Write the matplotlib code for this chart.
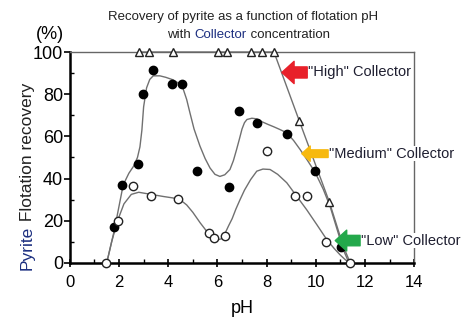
import matplotlib
matplotlib.use('Agg')
import matplotlib.pyplot as plt
from matplotlib.ticker import MultipleLocator

plt.rcParams['font.family'] = ['Liberation Sans', 'DejaVu Sans']

# measured points: "Medium" collector (filled circles)
med_ph = [1.79, 2.14, 2.78, 2.96, 3.37, 4.14, 4.54, 5.16, 6.48, 6.89, 7.62, 8.82, 9.97, 11.02]
med_rec = [17, 37, 47, 80, 91.4, 85, 85, 43.5, 36, 72, 66.5, 61.3, 43.5, 7.5]

# "Low" collector (open circles)
low_ph = [1.49, 1.94, 2.55, 3.32, 4.41, 5.67, 5.86, 6.31, 8.0, 9.16, 9.66, 10.42, 11.37]
low_rec = [0, 20, 36.3, 31.6, 30.5, 14, 11.7, 12.8, 53.3, 31.9, 31.6, 10.1, 0]

# "High" collector (open triangles)
high_ph = [2.8, 3.2, 4.2, 6.03, 6.4, 7.35, 7.8, 8.3, 9.33, 10.55]
high_rec = [100, 100, 100, 100, 100, 100, 100, 100, 67.3, 28.9]

# fitted curves
med_fit_ph = [1.5, 1.8, 2.17, 2.4, 2.6, 2.75, 2.85, 2.93, 3.0, 3.12, 3.25, 3.39, 3.66, 3.9,
              4.2, 4.45, 4.61, 4.75, 4.88, 5.05, 5.29, 5.5, 5.7, 5.9, 6.1, 6.3, 6.51, 6.65,
              6.78, 6.9, 7.0, 7.1, 7.2, 7.4, 7.6, 7.8, 8.05, 8.3, 8.55, 8.82, 9.1, 9.36,
              9.65, 9.97, 10.3, 10.58, 10.85, 11.12, 11.35]
med_fit_rec = [0, 15, 37, 42.5, 46, 50, 55, 63, 74, 83, 87, 88.7, 88.7, 88,
               86.8, 85, 82.4, 77.5, 71.3, 63.5, 55.4, 49.5, 45, 42, 41, 41.8, 44.3, 48.5,
               53.8, 59, 63.5, 66.5, 68, 68.6, 68.3, 67, 65.7, 64.5, 63.2, 61.7, 58, 53.8,
               48.8, 43, 35, 26.8, 16.5, 6.2, 0]

low_fit_ph = [1.5, 1.7, 1.94, 2.2, 2.5, 2.8, 3.3, 3.8, 4.2, 4.48, 4.75, 5.0, 5.3, 5.63,
              5.85, 6.04, 6.2, 6.31, 6.45, 6.6, 6.75, 6.92, 7.1, 7.35, 7.6, 7.85, 8.14,
              8.45, 8.82, 9.2, 9.63, 10.05, 10.45, 10.75, 10.99, 11.2, 11.4]
low_fit_rec = [0, 10, 20, 28, 32.5, 33.5, 32.5, 31.5, 30.8, 30, 27.5, 24, 19, 14,
               12, 11, 11.6, 14, 17.5, 21, 25.5, 30, 34.5, 39.5, 43.5, 44.5, 44.3,
               42, 38, 32, 25.2, 18, 11, 6.8, 3.8, 1.5, 0]

high_fit_ph = [2.8, 8.3, 9.33, 10.55, 11.12, 11.4]
high_fit_rec = [100, 100, 67.3, 28.9, 7.8, 0]

fig = plt.figure(figsize=(4.75, 3.23), dpi=100)
ax = fig.add_axes([0.147, 0.186, 0.725, 0.653])
renderer = fig.canvas.get_renderer()


def chain_text(parts, x, y, vertical=False, **kw):
    """Place coloured text pieces one after another (figure coords)."""
    for s, c in parts:
        if vertical:
            t = fig.text(x, y, s, color=c, rotation=90, rotation_mode='anchor',
                         ha='left', va='center', **kw)
            bb = t.get_window_extent(renderer)
            y += bb.height / fig.bbox.height
        else:
            t = fig.text(x, y, s, color=c, ha='left', va='center', **kw)
            bb = t.get_window_extent(renderer)
            x += bb.width / fig.bbox.width


line_kw = dict(color='#707070', linewidth=1.0, zorder=2)
ax.plot(med_fit_ph, med_fit_rec, **line_kw)
ax.plot(low_fit_ph, low_fit_rec, **line_kw)
ax.plot(high_fit_ph, high_fit_rec, clip_on=False, **line_kw)

ax.plot(med_ph, med_rec, 'o', color='black', markersize=6, zorder=4, clip_on=False)
ax.plot(low_ph, low_rec, 'o', markerfacecolor='white', markeredgecolor='#222222',
        markeredgewidth=1.0, markersize=6, zorder=4, clip_on=False)
ax.plot(high_ph, high_rec, '^', markerfacecolor='white', markeredgecolor='#222222',
        markeredgewidth=1.0, markersize=6, zorder=4, clip_on=False)

ax.set_xlim(0, 14)
ax.set_ylim(0, 100)
ax.xaxis.set_major_locator(MultipleLocator(2))
ax.xaxis.set_minor_locator(MultipleLocator(1))
ax.yaxis.set_major_locator(MultipleLocator(20))
ax.yaxis.set_minor_locator(MultipleLocator(10))
ax.tick_params(axis='x', which='major', direction='inout', length=6, width=1.2,
               labelsize=12, pad=6)
ax.tick_params(axis='x', which='minor', direction='in', length=3, width=1.0)
ax.tick_params(axis='y', which='major', direction='out', length=4, width=1.2,
               labelsize=13, pad=1)
ax.tick_params(axis='y', which='minor', direction='in', length=3, width=1.0)

ax.spines['left'].set_linewidth(1.8)
ax.spines['bottom'].set_linewidth(1.8)
for s in ['top', 'right']:
    ax.spines[s].set_linewidth(1.0)
    ax.spines[s].set_color('#666666')

ax.set_xlabel('pH', fontsize=13, labelpad=7)

# y label: "Pyrite" in blue, rest dark
chain_text([('Pyrite', '#1c2f80'), (' Flotation recovery', '#222222')],
           0.058, 0.164, vertical=True, fontsize=12.5)

fig.text(0.105, 0.892, '(%)', fontsize=13, ha='center', va='center')
fig.text(0.512, 0.947, 'Recovery of pyrite as a function of flotation pH',
         fontsize=9.5, ha='center', va='center', color='#222222')
chain_text([('with ', '#222222'), ('Collector', '#1c2f80'), (' concentration', '#222222')],
           0.352, 0.892, fontsize=9.5)

# arrows and labels for each collector level
labels = ['"High" Collector', '"Medium" Collector', '"Low" Collector']
arrow_colors = ['#e8202a', '#f7b90f', '#23a84b']
arrow_tip = [(8.62, 90.3), (9.43, 51.8), (10.79, 10.6)]
arrow_tail = [(9.65, 90.3), (10.5, 51.8), (11.8, 10.6)]
arrow_scale = [16, 11, 15]
for lab, c, tip, tail, ms in zip(labels, arrow_colors, arrow_tip, arrow_tail, arrow_scale):
    ax.annotate('', xy=tip, xytext=tail, annotation_clip=False,
                arrowprops=dict(arrowstyle='simple,head_length=0.55,head_width=1.0,tail_width=0.5',
                                color=c, mutation_scale=ms, shrinkA=0, shrinkB=0), zorder=6)
    ax.text(tail[0] + 0.02, tail[1], lab, fontsize=10.5, color='#1e1e30', ha='left',
            va='center', zorder=5, clip_on=False,
            bbox=dict(facecolor='white', edgecolor='none', pad=0.5))

fig.savefig('out.png', dpi=100, facecolor='white')
